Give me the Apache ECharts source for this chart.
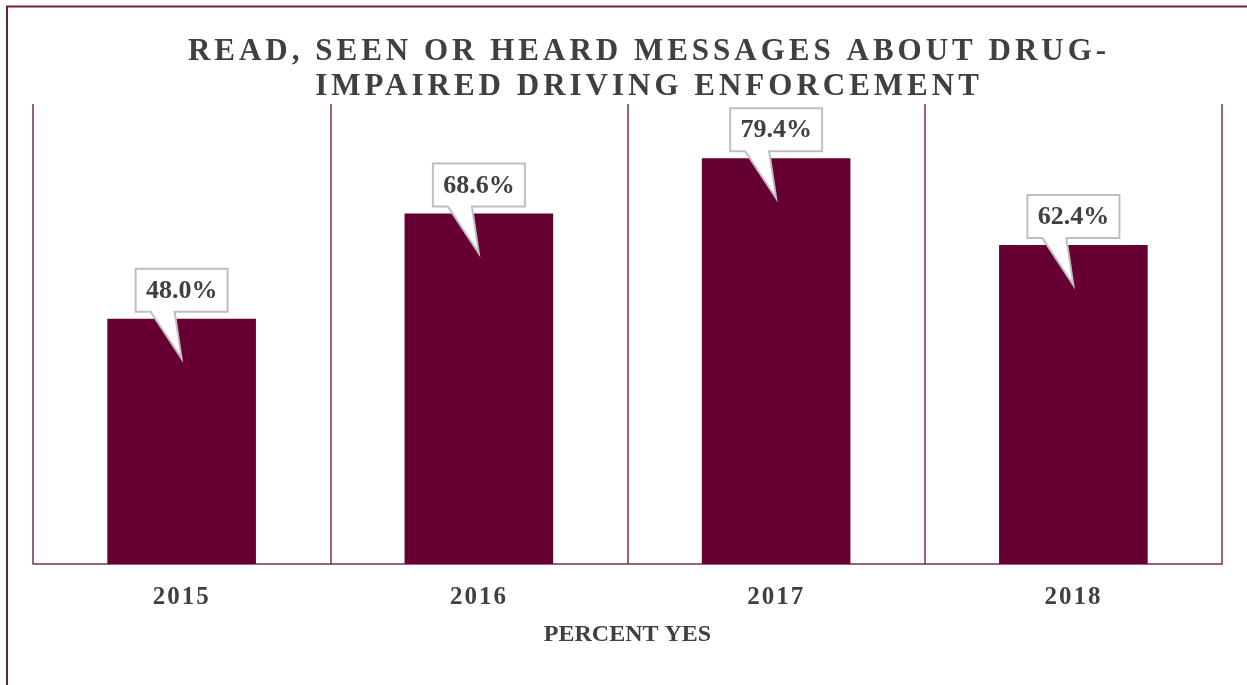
<!DOCTYPE html>
<html>
<head>
<meta charset="utf-8">
<script src="https://cdn.jsdelivr.net/npm/echarts@6/dist/echarts.min.js"></script>
<style>
html,body{margin:0;padding:0;background:#fff;}
#chart{width:1247px;height:685px;}
</style>
</head>
<body>
<div id="chart"></div>
<script>
// ---- data ----
const categories = ['2015', '2016', '2017', '2018'];
const percentYes = [48.0, 68.6, 79.4, 62.4];
const titleLines = ['READ, SEEN OR HEARD MESSAGES ABOUT DRUG-', 'IMPAIRED DRIVING ENFORCEMENT'];
const axisName = 'PERCENT YES';

// letter spacing for selected texts (canvas letterSpacing), state restored afterwards
const spacing = {};
titleLines.forEach(t => spacing[t] = '4px');
categories.forEach(t => spacing[t] = '2px');
const origFill = CanvasRenderingContext2D.prototype.fillText;
CanvasRenderingContext2D.prototype.fillText = function (t, x, y, w) {
  if (spacing[t] !== undefined && 'letterSpacing' in this) {
    this.save();
    this.letterSpacing = spacing[t];
    const r = w === undefined ? origFill.call(this, t, x, y) : origFill.call(this, t, x, y, w);
    this.restore();
    return r;
  }
  if ('letterSpacing' in this && this.letterSpacing !== '0px') this.letterSpacing = '0px';
  return w === undefined ? origFill.call(this, t, x, y) : origFill.call(this, t, x, y, w);
};

const FONT = '"Liberation Serif", "Times New Roman", serif';
const TEXT = '#404040';
const MAROON = '#660033';

const chart = echarts.init(document.getElementById('chart'), null, { renderer: 'canvas' });

const option = {
  animation: false,
  backgroundColor: '#ffffff',
  grid: { left: 33, right: 25, top: 104, bottom: 121, containLabel: false },
  xAxis: {
    type: 'category',
    data: categories,
    boundaryGap: true,
    axisLine: { show: true, lineStyle: { color: '#7b2d55', width: 1.5 } },
    axisTick: { show: false },
    splitLine: { show: true, interval: 0, lineStyle: { color: '#7b2d55', width: 1.5 } },
    axisLabel: { color: TEXT, fontFamily: FONT, fontWeight: 'bold', fontSize: 25, margin: 21 },
    name: axisName,
    nameLocation: 'middle',
    nameGap: 59,
    nameTextStyle: { color: TEXT, fontFamily: FONT, fontWeight: 'bold', fontSize: 24 }
  },
  yAxis: {
    type: 'value', min: 0, max: 90, show: false,
    splitLine: { show: false }
  },
  graphic: [
    {
      type: 'rect', silent: true, z: 100,
      shape: { x: 7, y: 6.5, width: 1400, height: 900 },
      style: { fill: null, stroke: '#6d1f45', lineWidth: 2 }
    },
    {
      type: 'text', x: 649, y: 52,
      style: { text: titleLines[0], fill: TEXT, font: 'bold 31px ' + FONT, textAlign: 'center', textVerticalAlign: 'middle' }
    },
    {
      type: 'text', x: 649, y: 87,
      style: { text: titleLines[1], fill: TEXT, font: 'bold 31px ' + FONT, textAlign: 'center', textVerticalAlign: 'middle' }
    }
  ],
  series: [
    {
      type: 'bar',
      data: percentYes,
      barWidth: '50%',
      itemStyle: { color: MAROON },
      z: 2
    },
    {
      type: 'custom',
      data: percentYes.map((v, i) => [i, v]),
      z: 10,
      clip: false,
      renderItem: function (params, api) {
        const p = api.coord([api.value(0), api.value(1)]);
        const cx = p[0], yT = p[1];
        const L = cx - 46, R = cx + 46, T = yT - 50, B = yT - 7;
        return {
          type: 'group',
          children: [
            {
              type: 'polygon',
              shape: {
                points: [[L, T], [R, T], [R, B], [cx - 7, B], [cx, yT + 40], [cx - 31, B], [L, B]]
              },
              style: { fill: '#ffffff', stroke: '#bfbfbf', lineWidth: 2, lineJoin: 'miter' }
            },
            {
              type: 'text',
              x: cx, y: (T + B) / 2 + 1,
              style: {
                text: api.value(1).toFixed(1) + '%',
                fill: TEXT, font: 'bold 26px ' + FONT,
                textAlign: 'center', textVerticalAlign: 'middle'
              }
            }
          ]
        };
      }
    }
  ]
};
chart.setOption(option);
</script>
</body>
</html>
